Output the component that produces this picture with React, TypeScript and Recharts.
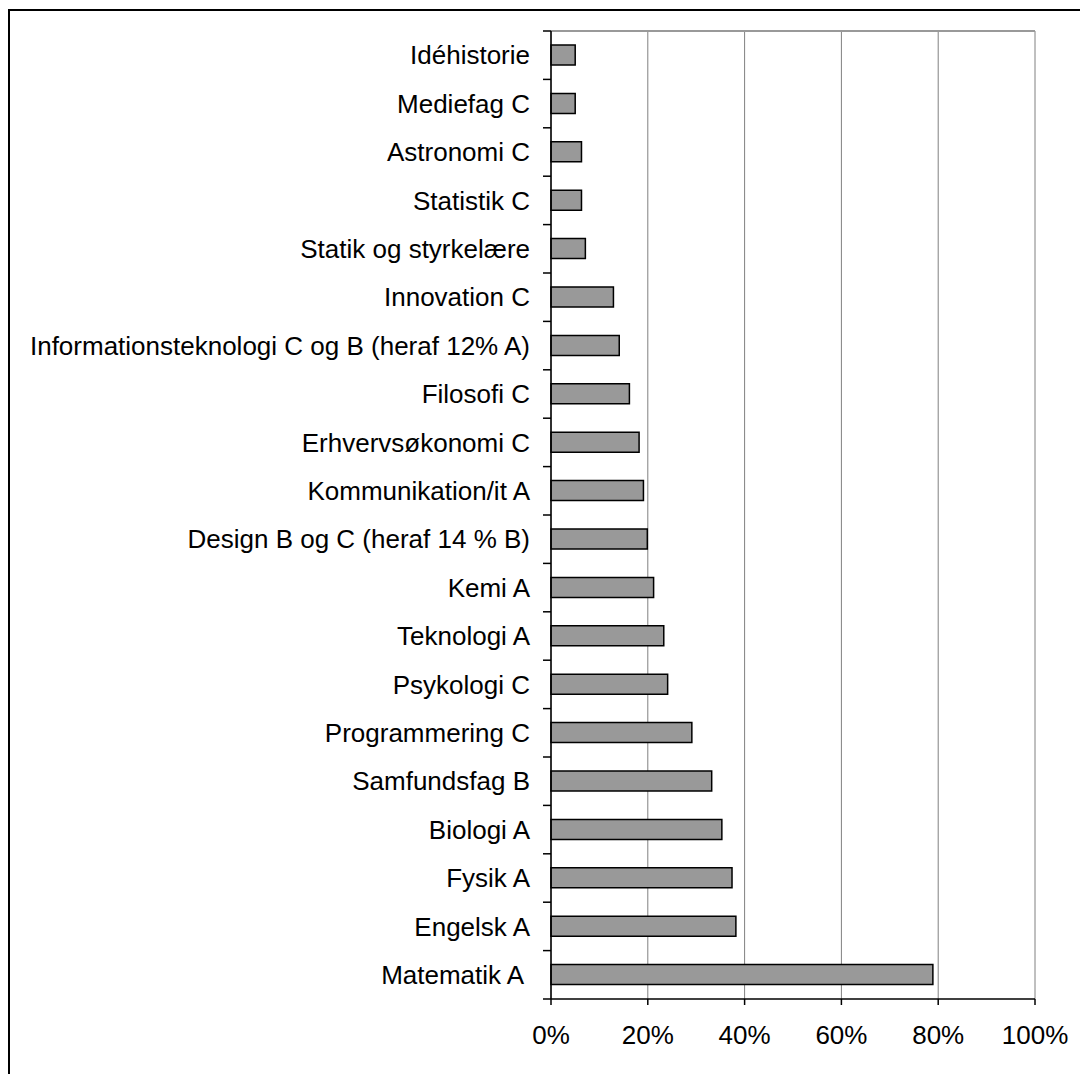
import React from 'react';
import { BarChart, Bar, XAxis, YAxis, CartesianGrid } from 'recharts';

const subjects = [
  'Idéhistorie',
  'Mediefag C',
  'Astronomi C',
  'Statistik C',
  'Statik og styrkelære',
  'Innovation C',
  'Informationsteknologi C og B (heraf 12% A)',
  'Filosofi C',
  'Erhvervsøkonomi C',
  'Kommunikation/it A',
  'Design B og C (heraf 14 % B)',
  'Kemi A',
  'Teknologi A',
  'Psykologi C',
  'Programmering C',
  'Samfundsfag B',
  'Biologi A',
  'Fysik A',
  'Engelsk A',
  'Matematik A ',
];

const shares = [5, 5, 6.3, 6.3, 7.1, 12.9, 14.1, 16.2, 18.2, 19.1, 19.9, 21.2, 23.3, 24.1, 29.1, 33.2, 35.3, 37.4, 38.2, 78.9];

const percentTicks = [0, 20, 40, 60, 80, 100];

const data = subjects.map((name, i) => ({ name, value: shares[i] }));

const FONT = '"Liberation Sans", Arial, sans-serif';

const YTick = (props: any) => {
  const { x, y, payload, index } = props;
  const half = payload && payload.offset ? payload.offset : 24.2;
  const axisX = x + 21;
  return (
    <g>
      <text
        x={x}
        y={y}
        dy="0.35em"
        textAnchor="end"
        fontFamily={FONT}
        fontSize={26}
        fill="#000"
        style={{ whiteSpace: 'pre' }}
      >
        {payload.value}
      </text>
      <line x1={axisX - 8} x2={axisX} y1={y - half} y2={y - half} stroke="#000" strokeWidth={1.5} />
      {index === subjects.length - 1 ? (
        <line x1={axisX - 8} x2={axisX} y1={y + half} y2={y + half} stroke="#000" strokeWidth={1.5} />
      ) : null}
    </g>
  );
};

const XTick = (props: any) => {
  const { x, y, payload } = props;
  return (
    <text x={x} y={y} dy={39} textAnchor="middle" fontFamily={FONT} fontSize={26} fill="#000">
      {`${payload.value}%`}
    </text>
  );
};

export default function App() {
  return (
    <div style={{ position: 'relative', width: 1080, height: 1074, overflow: 'hidden', background: '#fff' }}>
      <style>{`html,body{margin:0;padding:0;overflow:hidden;background:#fff}`}</style>
      <div
        style={{
          position: 'absolute',
          left: 8,
          top: 9,
          width: 1200,
          height: 1200,
          border: '2px solid #000',
          boxSizing: 'border-box',
        }}
      />
      <div style={{ position: 'absolute', left: 0, top: 0 }}>
        <BarChart
          width={1080}
          height={1074}
          data={data}
          layout="vertical"
          margin={{ top: 31, right: 45, bottom: 0, left: 0 }}
          barCategoryGap={0}
        >
          <CartesianGrid horizontal={false} vertical={true} stroke="#808080" strokeWidth={1} />
          <CartesianGrid
            vertical={false}
            horizontal={true}
            horizontalCoordinatesGenerator={(p: any) => [p.offset.top]}
            stroke="#999"
            strokeWidth={2}
          />
          <XAxis
            type="number"
            domain={[0, 100]}
            ticks={percentTicks}
            height={75}
            tickSize={6}
            tickMargin={0}
            tick={<XTick />}
            axisLine={{ stroke: '#000', strokeWidth: 1.5 }}
            tickLine={{ stroke: '#000', strokeWidth: 1.5 }}
            interval={0}
          />
          <YAxis
            type="category"
            dataKey="name"
            width={551}
            interval={0}
            tickSize={8}
            tickMargin={13}
            tickLine={false}
            tick={<YTick />}
            axisLine={{ stroke: '#000', strokeWidth: 1.5 }}
          />
          <Bar
            dataKey="value"
            fill="#999999"
            stroke="#000"
            strokeWidth={1.5}
            barSize={20}
            isAnimationActive={false}
          />
        </BarChart>
      </div>
    </div>
  );
}
